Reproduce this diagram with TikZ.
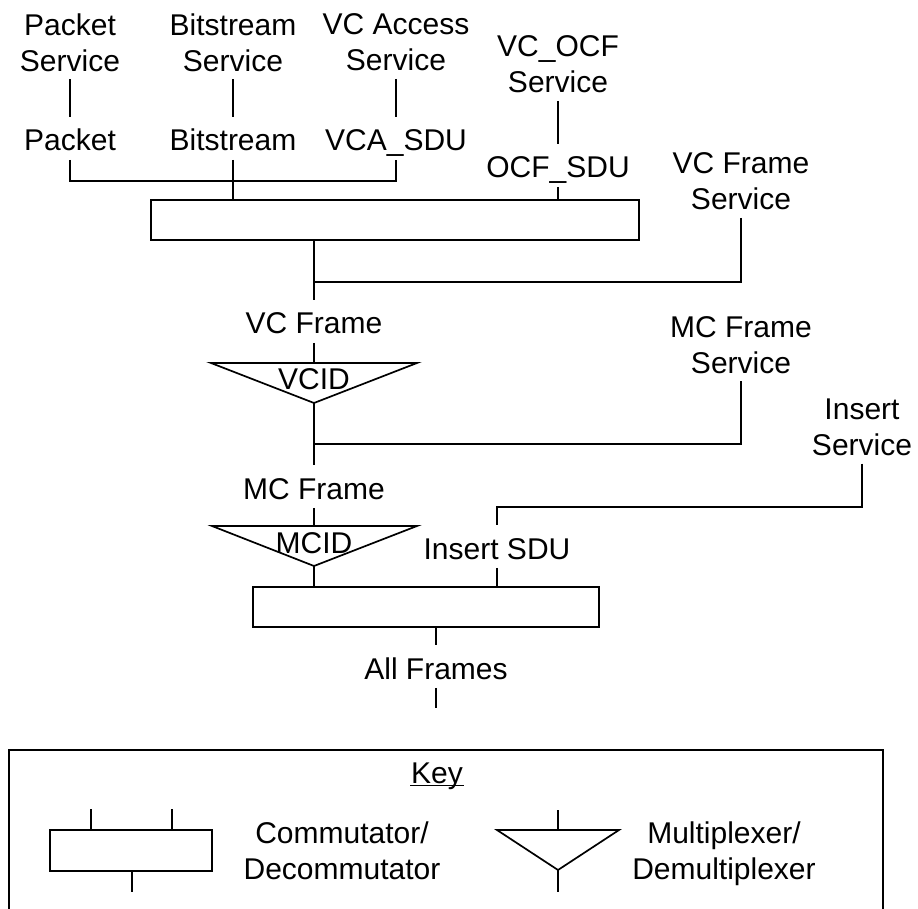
\documentclass[tikz,border=0pt]{standalone}
\usepackage{fontspec}
\setmainfont{Liberation Sans}
\begin{document}
\begin{tikzpicture}[x=1pt,y=-1pt, line width=1.7pt,
  every node/.style={font=\fontsize{30pt}{36pt}\selectfont},
  lbl/.style={anchor=base, text height=25pt, text depth=0pt, inner xsep=1pt, inner ysep=8pt},
  svc/.style={align=center, text depth=0pt, inner xsep=1pt, inner ysep=7pt},
  blk/.style={draw, rectangle, inner sep=0pt}]
\useasboundingbox (0,0) rectangle (918,909);

% top services
\node[svc] (pktsvc) at (70,42.5) {Packet\\Service};
\node[svc] (bitsvc) at (233,42.5) {Bitstream\\Service};
\node[svc] (vcasvc) at (396,42.5) {VC Access\\Service};
\node[svc] (ocfsvc) at (558,64.5) {VC\_OCF\\Service};
\node[lbl] (pkt) at (70,151) {Packet};
\node[lbl] (bit) at (233,151) {Bitstream};
\node[lbl] (vca) at (396,151) {VCA\_SDU};
\node[lbl] (ocf) at (558,178) {OCF\_SDU};
\node[blk, minimum width=488pt, minimum height=40pt] (box1) at (395,220) {};

\draw (pktsvc.south) -- (pkt.north);
\draw (bitsvc.south) -- (bit.north);
\draw (vcasvc.south) -- (vca.north);
\draw (ocfsvc.south) -- (ocf.north);
\coordinate (brk) at (396,181);
\draw (pkt.south) |- (brk) -- (vca.south);
\draw (bit.south) -- (bit.south |- box1.north);
\draw (ocf.south) -- (ocf.south |- box1.north);

% VC frame
\node[svc] (vcfsvc) at (741,181.5) {VC Frame\\Service};
\node[lbl] (vcf) at (314,334) {VC Frame};
\coordinate (j1) at (314,282);
\draw (box1.south -| vcf.north) -- (vcf.north);
\draw (vcfsvc.south) |- (j1);

% VCID demux
\coordinate (t1l) at (211,363);
\coordinate (t1r) at (417,363);
\coordinate (t1a) at (314,403);
\coordinate (t1t) at (314,363);
\draw (t1l) -- (t1r) -- (t1a) -- cycle;
\node[lbl] (vcid) at (314,389) {VCID};
\draw (vcf.south) -- (t1t);

% MC frame
\node[svc] (mcfsvc) at (741,345) {MC Frame\\Service};
\node[lbl] (mcf) at (314,499) {MC Frame};
\coordinate (j2) at (314,444);
\draw (t1a) -- (mcf.north);
\draw (mcfsvc.south) |- (j2);

% MCID demux
\coordinate (t2l) at (212,526);
\coordinate (t2r) at (417,526);
\coordinate (t2a) at (314,566);
\coordinate (t2t) at (314,526);
\draw (t2l) -- (t2r) -- (t2a) -- cycle;
\node[lbl] (mcid) at (314,553) {MCID};
\draw (mcf.south) -- (t2t);

\node[blk, minimum width=346pt, minimum height=40pt] (box2) at (426,607) {};
\draw (t2a) -- (t2a |- box2.north);

% Insert
\node[svc] (inssvc) at (862,427.5) {Insert\\Service};
\node[lbl] (insdu) at (497,559) {Insert SDU};
\coordinate (j3) at (497,507);
\draw (inssvc.south) |- (j3) -- (insdu.north);
\draw (insdu.south) -- (insdu.south |- box2.north);

% All frames
\node[lbl] (allf) at (436,679) {All Frames};
\draw (box2.south -| allf.north) -- (allf.north);
\coordinate (out) at (436,708);
\draw (allf.south) -- (out);

% Key
\draw (9,909) -- (9,750) -- (883,750) -- (883,909);
\node[lbl, inner xsep=0pt] (key) at (437,783) {Key};
\draw[line width=1.5pt] ([yshift=-2.5pt]key.base west) -- ([yshift=-2.5pt]key.base east);
\node[blk, minimum width=162pt, minimum height=41pt] (kcom) at (131,850.5) {};
\coordinate (kc1) at (91,809);
\coordinate (kc2) at (172,809);
\coordinate (kc3) at (132,892);
\draw (kc1) -- (kc1 |- kcom.north);
\draw (kc2) -- (kc2 |- kcom.north);
\draw (kc3 |- kcom.south) -- (kc3);
\node[svc] (kcomt) at (342,851) {Commutator/\\Decommutator};

\coordinate (kml) at (497,830);
\coordinate (kmr) at (619,830);
\coordinate (kma) at (558,870);
\coordinate (kmt) at (558,830);
\coordinate (kmin) at (558,810);
\coordinate (kmout) at (558,892);
\draw (kml) -- (kmr) -- (kma) -- cycle;
\draw (kmin) -- (kmt);
\draw (kma) -- (kmout);
\node[svc] (kmuxt) at (724,851) {Multiplexer/\\Demultiplexer};
\end{tikzpicture}
\end{document}
